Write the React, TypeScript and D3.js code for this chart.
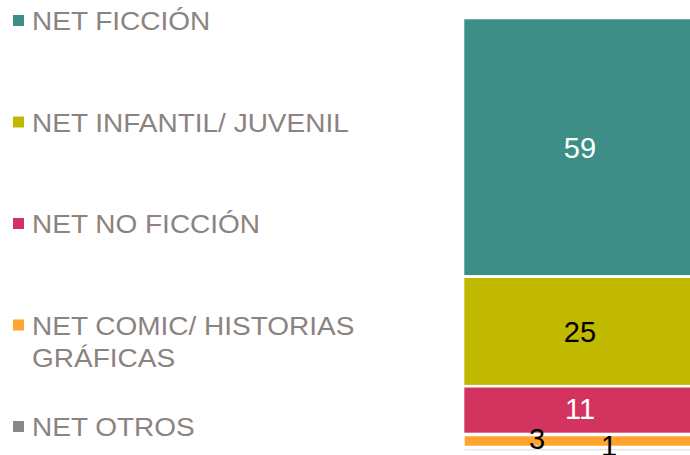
import React from "react";
import * as d3 from "d3";

const series = ["NET FICCIÓN", "NET INFANTIL/ JUVENIL", "NET NO FICCIÓN", "NET COMIC/ HISTORIAS GRÁFICAS", "NET OTROS"];
const legendLines = [["NET FICCIÓN"], ["NET INFANTIL/ JUVENIL"], ["NET NO FICCIÓN"], ["NET COMIC/ HISTORIAS", "GRÁFICAS"], ["NET OTROS"]];
const values = [59, 25, 11, 3, 1];
const category = ["Total"];
const barColors = ["#3d8e86", "#c1b900", "#d3345f", "#ffa42f", "#d6d6d6"];
const legendColors = ["#3d8e86", "#c1b900", "#d3345f", "#ffa42f", "#888888"];
const labelColors = ["#ffffff", "#000000", "#ffffff", "#000000", "#000000"];
const labelDx = [0, 0, 0, -43, 29];
const labelDy = [0, 0, -2, -3, -4];

const W = 690;
const H = 455;

export default function App() {
  const row: Record<string, number | string> = { cat: category[0] };
  series.forEach((s, i) => (row[s] = values[i]));
  const stacked = d3.stack<any>().keys(series)([row]);
  const total = d3.sum(values);

  const y = d3.scaleLinear().domain([0, total]).range([18, 452]);
  const x = d3.scaleBand().domain(category).range([463, 697]).padding(0);
  const legendY = d3.scalePoint().domain(series).range([30, 436]);

  const font = "'Liberation Sans', Arial, sans-serif";

  return (
    <div style={{ position: "fixed", left: 0, top: 0 }}>
      <svg width={W} height={H} style={{ display: "block", background: "#fff" }}>
        {stacked.map((layer, i) => {
          const d = layer[0];
          const yt = y(d[0]);
          const yb = y(d[1]);
          return (
            <rect
              key={series[i]}
              x={x(category[0])}
              y={yt}
              width={x.bandwidth()}
              height={yb - yt}
              fill={barColors[i]}
              stroke="#ffffff"
              strokeWidth={i >= 3 ? 3.5 : 2.6}
            />
          );
        })}
        {stacked.map((layer, i) => {
          const d = layer[0];
          const mid = (y(d[0]) + y(d[1])) / 2;
          const cx = (x(category[0]) as number) + x.bandwidth() / 2 + labelDx[i];
          return (
            <text
              key={"l" + i}
              x={cx}
              y={mid + 10.5 + labelDy[i]}
              textAnchor="middle"
              fontFamily={font}
              fontSize={29}
              fill={labelColors[i]}
            >
              {values[i]}
            </text>
          );
        })}
        {series.map((s, i) => {
          const by = legendY(s) as number;
          return (
            <g key={"lg" + i}>
              <rect x={13} y={by - 15} width={11} height={11} fill={legendColors[i]} />
              {legendLines[i].map((ln, j) => (
                <text
                  key={j}
                  transform={`translate(32,${by + j * 32}) scale(1.12,1)`}
                  fontFamily={font}
                  fontSize={25}
                  fill="#8b8380"
                >
                  {ln}
                </text>
              ))}
            </g>
          );
        })}
      </svg>
    </div>
  );
}
